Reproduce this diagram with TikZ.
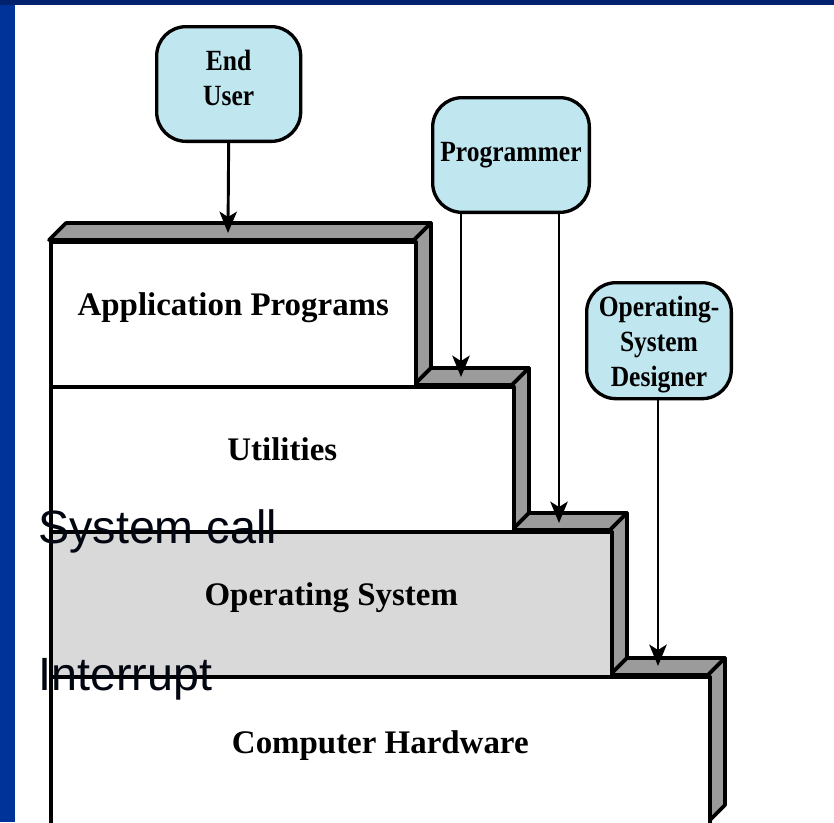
\documentclass[tikz,border=0pt]{standalone}
\usepackage{fontspec}
\setmainfont{Liberation Serif}
\setsansfont{Liberation Sans}
\newfontfamily\actorfont[FakeStretch=0.87]{Liberation Serif}
\usetikzlibrary{arrows.meta}

\definecolor{leftblue}{RGB}{0,51,153}
\definecolor{topblue}{RGB}{0,34,110}
\definecolor{actorfill}{RGB}{192,230,240}
\definecolor{facegray}{RGB}{155,155,155}
\definecolor{osgray}{RGB}{217,217,217}
\definecolor{notetext}{RGB}{2,6,16}

\tikzset{
  edge/.style={draw=black, line width=2.7pt, line join=round},
  sideface/.style={edge, fill=facegray},
  front/.style={edge, fill=white, inner sep=0pt, anchor=north west,
    minimum height=108.75pt, text height=16pt, text depth=13.5pt,
    font=\bfseries\fontsize{24.7}{28}\selectfont},
  actor/.style={draw=black, line width=2.5pt, fill=actorfill, rounded corners=22pt,
    inner sep=0pt, anchor=north west, minimum height=86pt},
  actortext/.style={align=center, inner sep=0pt,
    font=\actorfont\bfseries\fontsize{22}{26}\selectfont},
  arrow/.style={line width=2.2pt, -{Stealth[length=16pt,width=13pt,inset=4pt]}},
  note/.style={anchor=base west, inner sep=0pt, text=notetext,
    font=\sffamily\fontsize{35}{40}\selectfont}
}

\begin{document}
\begin{tikzpicture}[x=0.75pt, y=-0.75pt]
\useasboundingbox (0,0) rectangle (834,822);
\clip (0,0) rectangle (834,822);
\fill[white] (0,0) rectangle (834,822);

% slide frame
\fill[leftblue] (0,0) rectangle (15,822);
\fill[topblue] (0,0) rectangle (834,5);

% stair of layers: top and side faces
\draw[sideface] (49,240) -- (66,223) -- (431,223) -- (414,240) -- cycle;
\draw[sideface] (414,240) -- (431,223) -- (431,368) -- (414,385) -- cycle;
\draw[sideface] (414,385) -- (431,368) -- (529,368) -- (512,385) -- cycle;
\draw[sideface] (512,385) -- (529,368) -- (529,513) -- (512,530) -- cycle;
\draw[sideface] (512,530) -- (529,513) -- (627,513) -- (610,530) -- cycle;
\draw[sideface] (610,530) -- (627,513) -- (627,658) -- (610,675) -- cycle;
\draw[sideface] (610,675) -- (627,658) -- (725,658) -- (708,675) -- cycle;
\draw[sideface] (708,675) -- (725,658) -- (725,805) -- (708,822) -- cycle;

% front faces
\node[front, minimum width=273.75pt] (app) at (49,240) {Application Programs};
\node[front, minimum width=347.25pt] (util) at (49,385) {Utilities};
\node[front, minimum width=420.75pt, fill=osgray] (os) at (49,530) {Operating System};
\node[front, minimum width=494.25pt, minimum height=113.25pt] (hw) at (49,675) {Computer Hardware};

% users of the layers
\node[actor, minimum width=108pt,
  label={[actortext, yshift=4.5pt]center:End\\User}] (user) at (155,25) {};
\node[actor, minimum width=117.5pt,
  label={[actortext]center:Programmer}] (prog) at (431,96) {};
\node[actor, minimum width=108.5pt, minimum height=87pt,
  label={[actortext, yshift=-3pt]center:Operating-\\System\\Designer}] (osd) at (585,281) {};

% arrow targets on the top faces
\coordinate (appTop) at (228,233);
\coordinate (utilTop) at (461,377);
\coordinate (osTop) at (559,523);
\coordinate (hwTop) at (658,666);

\draw[arrow] (user.south) -- (appTop);
\draw[arrow] (461,0 |- prog.south) -- (utilTop);
\draw[arrow] (559,0 |- prog.south) -- (osTop);
\draw[arrow] (658,0 |- osd.south) -- (hwTop);

% interface labels
\node[note] (syscall) at (38,543) {System call};
\node[note] (interrupt) at (38,690) {Interrupt};
\end{tikzpicture}
\end{document}
